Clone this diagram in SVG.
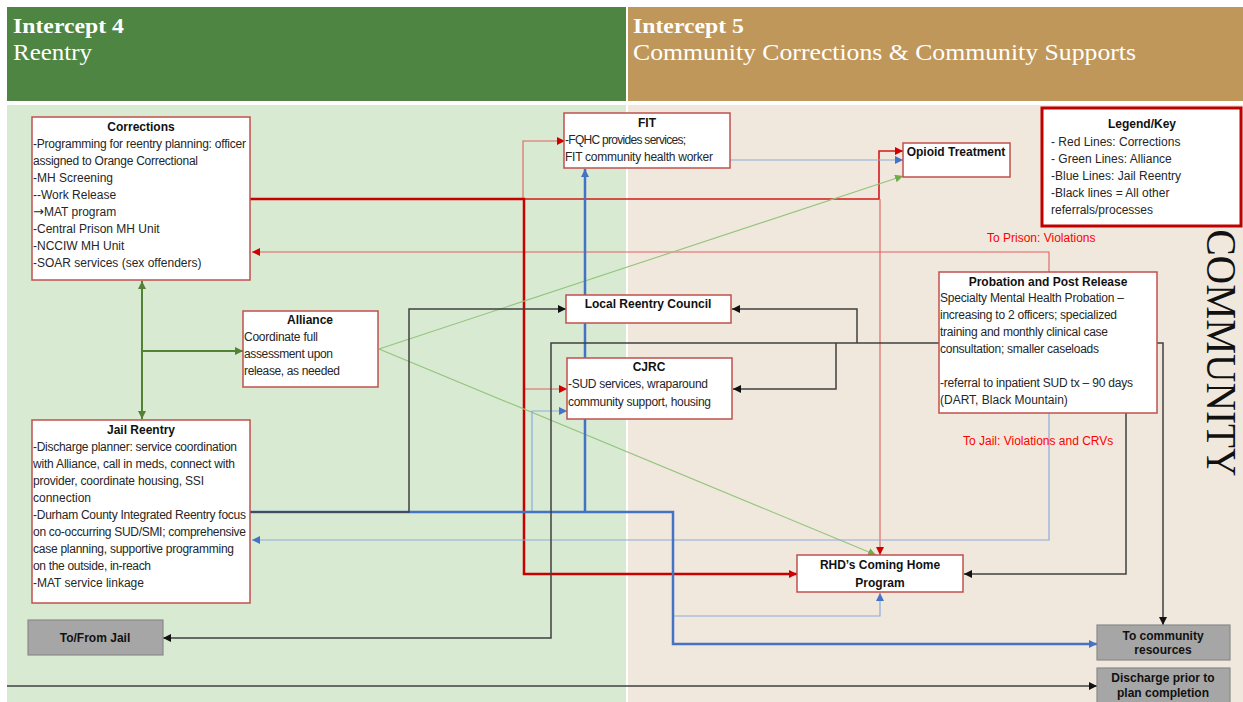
<svg xmlns="http://www.w3.org/2000/svg" width="1243" height="702" viewBox="0 0 1243 702">
<style>
.hd{font-family:"Liberation Serif",serif;fill:#fff}
.t{font-family:"Liberation Sans",Arial,sans-serif;font-size:12px;fill:#262626}
.b{font-family:"Liberation Sans",Arial,sans-serif;font-size:12px;font-weight:bold;fill:#111;text-anchor:middle}
.box{fill:#fff;stroke:#c0504d;stroke-width:1.5}
.gbox{fill:#a6a6a6;stroke:#8a8a8a;stroke-width:1.2}
.lbl{font-family:"Liberation Sans",Arial,sans-serif;font-size:12px;fill:#ff0000}
.c{fill:none}
.rk{stroke:#c80000;stroke-width:2.5}
.rm{stroke:#d41a1a;stroke-width:1.6}
.rt{stroke:#e06060;stroke-width:1.1}
.gk{stroke:#538135;stroke-width:2}
.gt{stroke:#93c47d;stroke-width:1.1}
.bk{stroke:#4472c4;stroke-width:2.5}
.bt{stroke:#8eaadb;stroke-width:1.2}
.kk{stroke:#404040;stroke-width:1.5}
</style>
<defs>
<marker id="aR" viewBox="0 0 8 8" refX="8" refY="4" markerWidth="8" markerHeight="8" markerUnits="userSpaceOnUse" orient="auto-start-reverse"><path d="M0,0 L8,4 L0,8 z" fill="#d00000"/></marker>
<marker id="aG" viewBox="0 0 8 8" refX="8" refY="4" markerWidth="8" markerHeight="8" markerUnits="userSpaceOnUse" orient="auto-start-reverse"><path d="M0,0 L8,4 L0,8 z" fill="#538135"/></marker>
<marker id="aGt" viewBox="0 0 8 8" refX="8" refY="4" markerWidth="8" markerHeight="8" markerUnits="userSpaceOnUse" orient="auto-start-reverse"><path d="M0,0 L8,4 L0,8 z" fill="#70ad47"/></marker>
<marker id="aB" viewBox="0 0 8 8" refX="8" refY="4" markerWidth="8" markerHeight="8" markerUnits="userSpaceOnUse" orient="auto-start-reverse"><path d="M0,0 L8,4 L0,8 z" fill="#4472c4"/></marker>
<marker id="aK" viewBox="0 0 8 8" refX="8" refY="4" markerWidth="8" markerHeight="8" markerUnits="userSpaceOnUse" orient="auto-start-reverse"><path d="M0,0 L8,4 L0,8 z" fill="#111"/></marker>
</defs>
<rect x="0" y="0" width="1243" height="702" fill="#fff"/>
<g id="backgrounds">
<rect x="7" y="7" width="619" height="94" fill="#4e8542"/>
<rect x="628" y="7" width="615" height="94" fill="#c0975a"/>
<rect x="7" y="105" width="619" height="597" fill="#d9ead3"/>
<rect x="628" y="105" width="615" height="597" fill="#f0e8dc"/>
<text class="hd" x="13" y="33" font-size="22" font-weight="bold" textLength="111" lengthAdjust="spacingAndGlyphs">Intercept 4</text>
<text class="hd" x="13" y="60" font-size="24" textLength="79" lengthAdjust="spacingAndGlyphs">Reentry</text>
<text class="hd" x="633" y="33" font-size="22" font-weight="bold" textLength="111" lengthAdjust="spacingAndGlyphs">Intercept 5</text>
<text class="hd" x="633" y="60" font-size="24" textLength="503" lengthAdjust="spacingAndGlyphs">Community Corrections &amp; Community Supports</text>
<text x="0" y="0" transform="translate(1207,353) rotate(90)" font-family="Liberation Serif,serif" font-size="42" fill="#111" text-anchor="middle" textLength="247" lengthAdjust="spacingAndGlyphs">COMMUNITY</text>
</g>
<g id="connectors">
<path class="c rt" d="M1049,272 V252 H252" marker-end="url(#aR)"/>
<path class="c rm" d="M524,199 H879 V151 H903" marker-end="url(#aR)"/>
<path class="c rt" d="M523,199 V141 H565" marker-end="url(#aR)"/>
<path class="c rt" d="M524,389 H567" marker-end="url(#aR)"/>
<path class="c rt" d="M880,199 V555" marker-end="url(#aR)"/>
<path class="c rk" d="M250,199 H524 V574 H797" marker-end="url(#aR)"/>
<path class="c gk" d="M142,281 V419" marker-start="url(#aG)" marker-end="url(#aG)"/>
<path class="c gk" d="M142,351 H243" marker-end="url(#aG)"/>
<path class="c gt" d="M379,349 L903,176" marker-end="url(#aGt)"/>
<path class="c gt" d="M379,349 L876,555" marker-end="url(#aGt)"/>
<path class="c bt" d="M730,160 H903" marker-end="url(#aB)"/>
<path class="c bt" d="M532,512 V411 H567" marker-end="url(#aB)"/>
<path class="c bt" d="M673,616 H880 V593" marker-end="url(#aB)"/>
<path class="c bt" d="M1049,413 V540 H252" marker-end="url(#aB)"/>
<path class="c bk" d="M250,512 H673 V644 H1097" marker-end="url(#aB)"/>
<path class="c bk" d="M585,512 V169" marker-end="url(#aB)"/>
<path class="c kk" d="M250,512 H409 V309 H566" marker-end="url(#aK)"/>
<path class="c kk" d="M939,343 H551 V638 H163" marker-end="url(#aK)"/>
<path class="c kk" d="M857,343 V309 H732" marker-end="url(#aK)"/>
<path class="c kk" d="M836,343 V389 H733" marker-end="url(#aK)"/>
<path class="c kk" d="M1157,343 H1163 V625" marker-end="url(#aK)"/>
<path class="c kk" d="M1126,413 V574 H964" marker-end="url(#aK)"/>
<path class="c kk" d="M7,686 H1097" marker-end="url(#aK)"/>
</g>
<g id="corrections">
<rect class="box" x="32" y="117" width="218" height="163"/>
<text class="b" x="141" y="131">Corrections</text>
<text class="t" x="33" y="148" textLength="213" lengthAdjust="spacing">-Programming for reentry planning: officer</text>
<text class="t" x="33" y="165" textLength="165" lengthAdjust="spacing">assigned to Orange Correctional</text>
<text class="t" x="33" y="182">-MH Screening</text>
<text class="t" x="33" y="199">--Work Release</text>
<text class="t" x="33" y="216"><tspan font-family="DejaVu Sans,sans-serif" font-size="13">→</tspan>MAT program</text>
<text class="t" x="33" y="233">-Central Prison MH Unit</text>
<text class="t" x="33" y="250">-NCCIW MH Unit</text>
<text class="t" x="33" y="267">-SOAR services (sex offenders)</text>
</g>
<g id="alliance">
<rect class="box" x="243" y="311" width="135" height="76"/>
<text class="b" x="310" y="324">Alliance</text>
<text class="t" x="244" y="341" textLength="74" lengthAdjust="spacing">Coordinate full</text>
<text class="t" x="244" y="358" textLength="89" lengthAdjust="spacing">assessment upon</text>
<text class="t" x="244" y="375" textLength="96" lengthAdjust="spacing">release, as needed</text>
</g>
<g id="jail-reentry">
<rect class="box" x="32" y="420" width="218" height="183"/>
<text class="b" x="141" y="434">Jail Reentry</text>
<text class="t" x="33" y="451" textLength="204" lengthAdjust="spacing">-Discharge planner: service coordination</text>
<text class="t" x="33" y="468" textLength="202" lengthAdjust="spacing">with Alliance, call in meds, connect with</text>
<text class="t" x="33" y="485" textLength="171" lengthAdjust="spacing">provider, coordinate housing, SSI</text>
<text class="t" x="33" y="502">connection</text>
<text class="t" x="33" y="519" textLength="213" lengthAdjust="spacing">-Durham County Integrated Reentry focus</text>
<text class="t" x="33" y="536" textLength="213" lengthAdjust="spacing">on co-occurring SUD/SMI; comprehensive</text>
<text class="t" x="33" y="553" textLength="201" lengthAdjust="spacing">case planning, supportive programming</text>
<text class="t" x="33" y="570" textLength="118" lengthAdjust="spacing">on the outside, in-reach</text>
<text class="t" x="33" y="587">-MAT service linkage</text>
</g>
<g id="to-from-jail">
<rect class="gbox" x="28" y="620" width="135" height="35"/>
<text class="b" x="95" y="642">To/From Jail</text>
</g>
<g id="fit">
<rect class="box" x="564" y="113" width="166" height="55"/>
<text class="b" x="647" y="127">FIT</text>
<text class="t" x="565" y="144" textLength="121" lengthAdjust="spacing">-FQHC provides services;</text>
<text class="t" x="565" y="161" textLength="148" lengthAdjust="spacing">FIT community health worker</text>
</g>
<g id="opioid-treatment">
<rect class="box" x="903" y="143" width="107" height="34"/>
<text class="b" x="956" y="156">Opioid Treatment</text>
</g>
<g id="legend">
<rect x="1042" y="108" width="199" height="118" fill="#fff" stroke="#c00000" stroke-width="3"/>
<text class="b" x="1142" y="128">Legend/Key</text>
<text class="t" x="1051" y="146">- Red Lines: Corrections</text>
<text class="t" x="1051" y="163">- Green Lines: Alliance</text>
<text class="t" x="1051" y="180">-Blue Lines: Jail Reentry</text>
<text class="t" x="1051" y="197">-Black lines = All other</text>
<text class="t" x="1051" y="214">referrals/processes</text>
</g>
<g id="local-reentry-council">
<rect class="box" x="566" y="295" width="165" height="28"/>
<text class="b" x="648" y="308">Local Reentry Council</text>
</g>
<g id="cjrc">
<rect class="box" x="567" y="358" width="165" height="61"/>
<text class="b" x="649" y="371">CJRC</text>
<text class="t" x="568" y="388" textLength="140" lengthAdjust="spacing">-SUD services, wraparound</text>
<text class="t" x="568" y="406" textLength="143" lengthAdjust="spacing">community support, housing</text>
</g>
<g id="probation">
<rect class="box" x="939" y="272" width="218" height="141"/>
<text class="b" x="1048" y="286">Probation and Post Release</text>
<text class="t" x="940" y="302" textLength="184" lengthAdjust="spacing">Specialty Mental Health Probation –</text>
<text class="t" x="940" y="319" textLength="177" lengthAdjust="spacing">increasing to 2 officers; specialized</text>
<text class="t" x="940" y="336" textLength="168" lengthAdjust="spacing">training and monthly clinical case</text>
<text class="t" x="940" y="353" textLength="159" lengthAdjust="spacing">consultation; smaller caseloads</text>
<text class="t" x="940" y="387" textLength="193" lengthAdjust="spacing">-referral to inpatient SUD tx – 90 days</text>
<text class="t" x="940" y="404">(DART, Black Mountain)</text>
</g>
<g id="rhd">
<rect class="box" x="797" y="555" width="166" height="37"/>
<text class="b" x="880" y="569">RHD’s Coming Home</text>
<text class="b" x="880" y="587">Program</text>
</g>
<g id="community-resources">
<rect class="gbox" x="1097" y="625" width="133" height="35"/>
<text class="b" x="1163" y="640">To community</text>
<text class="b" x="1163" y="654">resources</text>
</g>
<g id="discharge">
<rect class="gbox" x="1097" y="668" width="133" height="38"/>
<text class="b" x="1163" y="682">Discharge prior to</text>
<text class="b" x="1163" y="697">plan completion</text>
</g>
<g id="labels">
<text class="lbl" x="987" y="242">To Prison: Violations</text>
<text class="lbl" x="963" y="445">To Jail: Violations and CRVs</text>
</g>
</svg>
